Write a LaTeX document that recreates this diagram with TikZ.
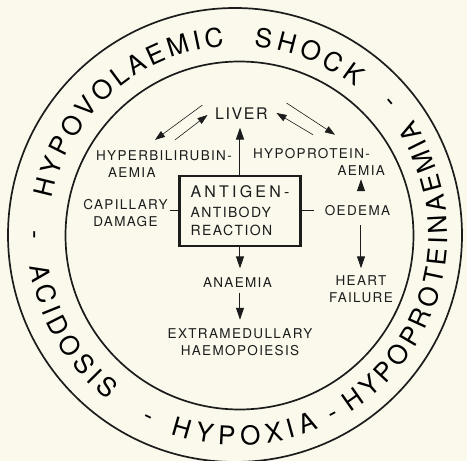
\documentclass[tikz,border=0pt]{standalone}
\usepackage{fontspec}
\setmainfont{TeX Gyre Heros}[LetterSpace=10]
\newfontfamily\ringfont{TeX Gyre Heros}
\usetikzlibrary{arrows.meta, decorations.text, positioning}
\definecolor{paper}{RGB}{250,249,236}
\definecolor{ink}{RGB}{28,28,28}
% word along the ring: text, start angle, end angle, radius, alignment
\newcommand\ringtext[5]{%
  \path[decorate, decoration={text along path,
      text={|\ringfont\fontsize{26}{30}\selectfont|#1}, text align=#5}]
    (#2:#4) arc[start angle=#2, end angle=#3, radius=#4];}
\tikzset{
  lbl/.style={font=\fontsize{13.5}{17}\selectfont, inner sep=2pt, align=center},
  ring/.style={line width=1.7pt},
  mainarrow/.style={-{Triangle[length=12pt,width=8pt]}, line width=1pt},
  sidearrow/.style={-{Triangle[length=10pt,width=7pt]}, line width=0.6pt},
}

\begin{document}
\begin{tikzpicture}[x=1pt, y=1pt, color=ink]
    \useasboundingbox (-237.5,-226) rectangle (229.5,235);
    \fill[paper] (-237.5,-226) rectangle (229.5,235);
    \draw[ring] (-2.5,0) circle[radius=227];
    \draw[ring] (2,-0.5) circle[radius=174];

    % outer ring
    \ringtext{HYPOVOLAEMIC}{169}{94}{189}{fit to path}
    \ringtext{SHOCK}{85}{51.5}{189}{fit to path}
    \ringtext{-}{177}{183}{210}{center}
    \ringtext{ACIDOSIS}{188.5}{231.7}{210}{fit to path}
    \ringtext{-}{241}{247}{210}{center}
    \ringtext{HYPOXIA}{251.5}{292.7}{210}{fit to path}
    \ringtext{-}{295}{301}{210}{center}
    \ringtext{HYPOPROTEINAEMIA}{302.5}{393.3}{210}{fit to path}
    \ringtext{-}{398}{404}{210}{center}

    % inner scheme
    \node[draw, line width=2.4pt, minimum width=121pt, minimum height=70pt, align=left,
          font=\fontsize{14}{18}\selectfont] (box) at (2.5,24)
        {{\addfontfeature{LetterSpace=20}\fontsize{16}{19}\selectfont ANTIGEN-}\\[2pt]ANTIBODY\\REACTION};
    \node[lbl, font=\fontsize{16}{19}\selectfont] (liver) at (4,121.5) {LIVER};
    \node[lbl, align=left] (hyperb) at (-73.5,70.5) {HYPERBILIRUBIN-\\\hspace*{12pt}AEMIA};
    \node[lbl, align=right] (hypopro) at (81.5,73.5) {HYPOPROTEIN-\hspace*{15pt}\\AEMIA};
    \node[lbl] (capill) at (-112,21.5) {CAPILLARY\\DAMAGE};
    \node[lbl] (oedema) at (120,24) {OEDEMA};
    \node[lbl] (heart) at (123.5,-54) {HEART\\FAILURE};
    \node[lbl] (anaemia) at (0,-47.5) {ANAEMIA};
    \node[lbl] (extra) at (2.5,-107.5) {EXTRAMEDULLARY\\HAEMOPOIESIS};

    \draw[mainarrow, shorten >=6pt] (box.north) -- (box.north |- liver.south);
    \draw[mainarrow, shorten >=7pt] (box.south) -- (box.south |- anaemia.north);
    \draw[mainarrow, shorten <=3pt, shorten >=7pt] (anaemia.south -| extra.north) -- (extra.north);
    \draw[mainarrow, shorten <=14pt, shorten >=2pt] (oedema.north -| heart.north) -- (hypopro.south -| heart.north);
    \draw[mainarrow, shorten <=7pt, shorten >=5pt] (oedema.south -| heart.north) -- (heart.north);
    \draw[line width=1pt] (box.west) -- (box.west -| capill.east);
    \draw[line width=1pt, shorten >=9pt] (box.east) -- (box.east -| oedema.west);

    \draw[sidearrow] ([shift={(-10.5pt,8.5pt)}]liver.west) -- ([shift={(-9pt,9pt)}]hyperb.north);
    \draw[sidearrow] ([shift={(11pt,9pt)}]hyperb.north) -- ([shift={(-5.5pt,-1.5pt)}]liver.west);
    \draw[sidearrow] ([shift={(16.5pt,10.5pt)}]liver.east) -- ([shift={(16pt,11pt)}]hypopro.north);
    \draw[sidearrow] ([shift={(-6pt,11pt)}]hypopro.north) -- ([shift={(6.5pt,0.5pt)}]liver.east);
\end{tikzpicture}
\end{document}
